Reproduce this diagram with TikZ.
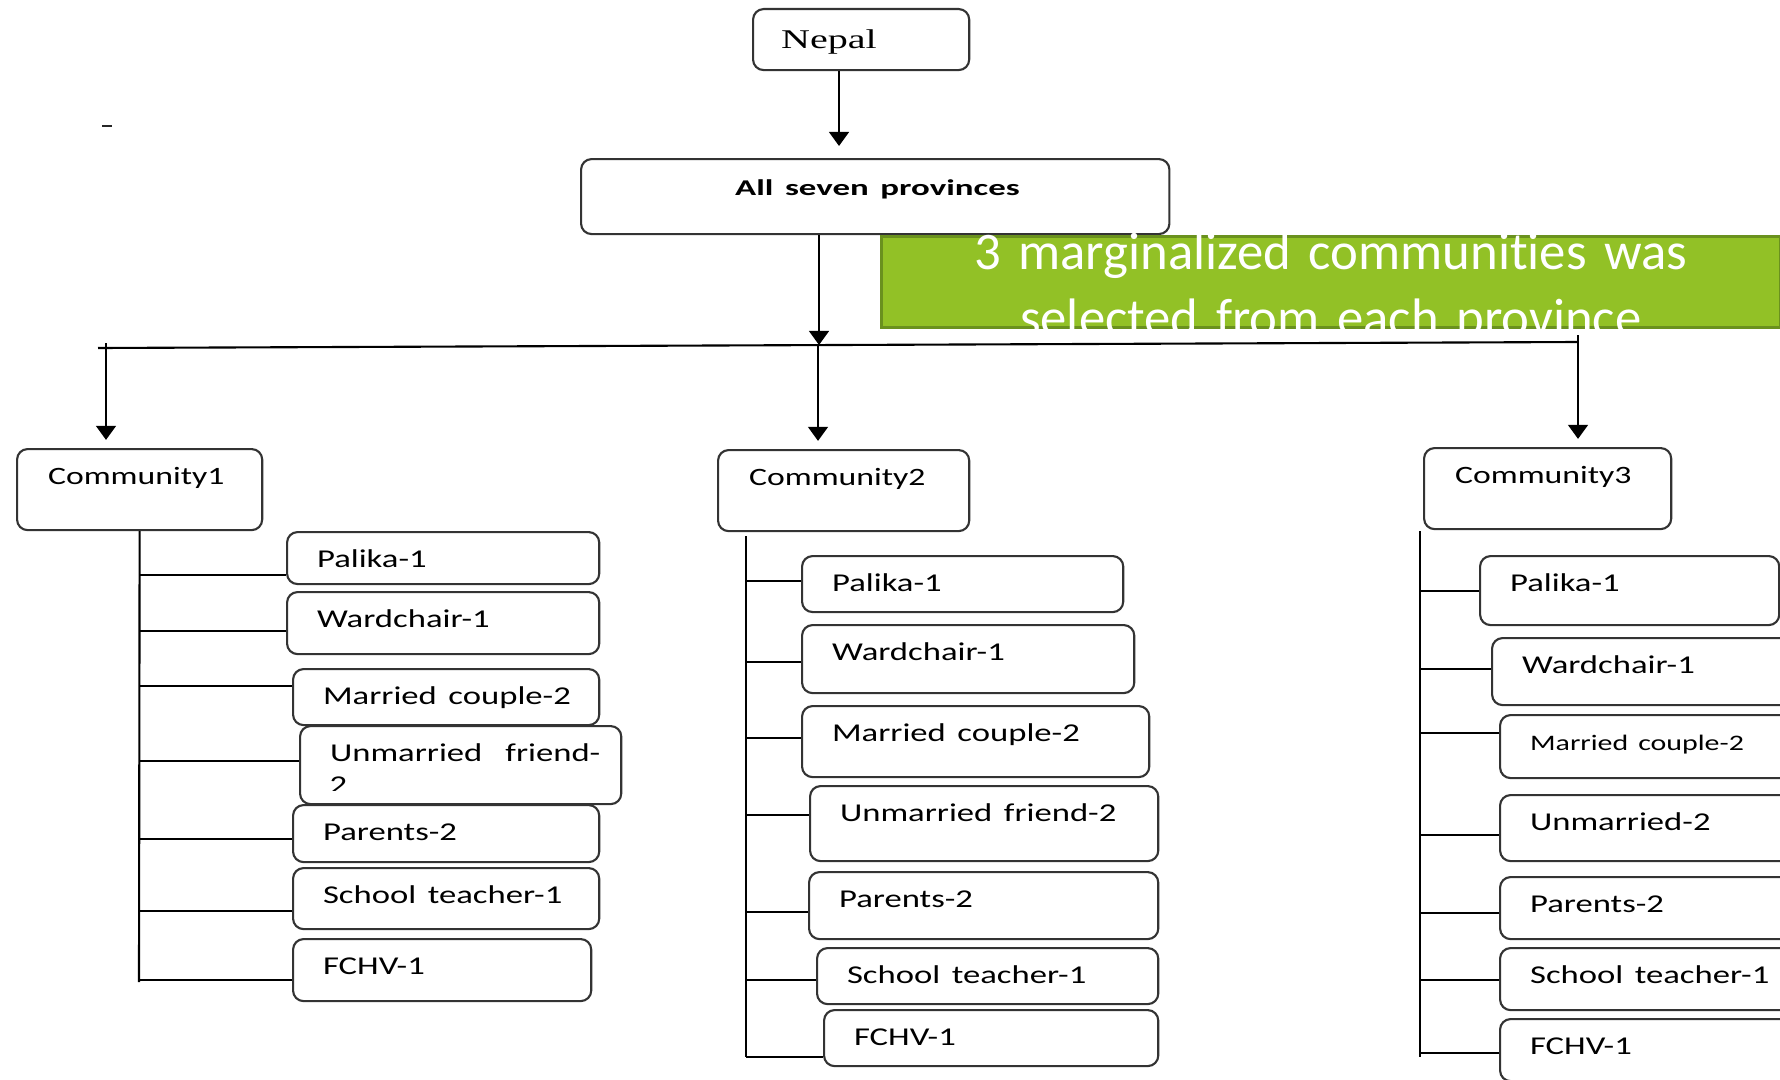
\documentclass[tikz,border=0pt]{standalone}
\usepackage{fontspec}
\setmainfont{Carlito}[RawFeature={-liga;-clig;-calt}]
\newfontfamily\nepalfont{Liberation Serif}
\usetikzlibrary{arrows.meta}
\definecolor{greenfill}{RGB}{146,193,38}
\definecolor{greenline}{RGB}{106,145,30}
\newcommand{\wide}[1]{\scalebox{1.35}[1]{#1}}

\begin{document}
\begin{tikzpicture}[x = 0.01cm, y = -0.01cm, >={Triangle[width=5.6pt,length=4pt]}]

\tikzstyle{box}=[draw=black!80, line width=0.6pt, rounded corners=3pt, anchor=north west, inner ysep=0pt, align=left]
\tikzstyle{leaf}=[box, inner xsep=0.3cm, text height=0.35cm, font=\fontsize{7.3}{9}\selectfont]
\tikzstyle{comm}=[box, inner xsep=0.31cm, text height=0.35cm, text depth=0.46cm, font=\fontsize{7.1}{9}\selectfont]
\tikzstyle{note}=[fill=greenfill, draw=greenline, line width=0.85pt, anchor=north west, inner sep=0pt, text width=8.98cm, align=center, text height=0.33cm, text depth=0.58cm, text=white, font=\fontsize{15}{18.8}\selectfont]
\tikzstyle{link}=[line width=0.6pt, color=black]

\useasboundingbox (0,0) rectangle (1780,1079);

\coordinate (n1) at (839,146);
\coordinate (hub) at (819,345);
\coordinate (hl) at (98,348);
\coordinate (hr) at (1578,342);
\coordinate (a1) at (106,343);
\coordinate (a2) at (818,345);
\coordinate (a3) at (1578,335);
\coordinate (c1b) at (139,982);
\coordinate (c2t) at (746,536);
\coordinate (c2b) at (746,1057);
\coordinate (c3t) at (1420,531);
\coordinate (c3b) at (1420,1057);

\path
(752,8) node[box, inner xsep=0.28cm, text width=1.60cm, text height=0.39cm, text depth=0.22cm, font=\fontsize{7.7}{9}\selectfont](nepal) {\nepalfont\scalebox{1.48}[1]{Nepal}}
(580,158) node[box, inner xsep=1.54cm, text width=2.80cm, text height=0.36cm, text depth=0.39cm, font=\fontsize{6.4}{8}\selectfont](prov) {\scalebox{1.55}[1]{\bfseries All seven provinces}}
(880,235) node[note](sel) {3 marginalized communit\kern0pt ies was\\selected from each province};

\path
(16,448) node[comm, text width=1.83cm](c1) {\wide{Community1}}
(717,449) node[comm, text width=1.89cm](c2) {\wide{Community2}}
(1423,447) node[comm, text width=1.85cm](c3) {\wide{Community3}};

% community 1
\path
(286,531) node[leaf, text width=2.52cm, text depth=0.17cm](c1p1) {\wide{Palika-1}}
(286,591) node[leaf, text width=2.52cm, text depth=0.27cm](c1p2) {\wide{Wardchair-1}}
(292,668) node[leaf, text width=2.46cm, text depth=0.21cm](c1p3) {\wide{Married couple-2}}
(299,725) node[leaf, text width=2.61cm, text depth=0.43cm](c1p4) {\wide{Unmarried\ \ friend-}}
(292,804) node[leaf, text width=2.46cm, text depth=0.22cm](c1p5) {\wide{Parents-2}}
(292,867) node[leaf, text width=2.46cm, text depth=0.26cm](c1p6) {\wide{School teacher-1}}
(292,938) node[leaf, text width=2.38cm, text depth=0.27cm](c1p7) {\wide{FCHV-1}};

\begin{scope}
\clip (299,770) rectangle (620,790);
\node[anchor=base west, inner sep=0pt, font=\fontsize{7.3}{9}\selectfont] (c1p4x) at (329,793) {\wide{2}};
\end{scope}

% community 2
\path
(801,555) node[leaf, text width=2.61cm, text depth=0.21cm](c2p1) {\wide{Palika-1}}
(801,624) node[leaf, text width=2.72cm, text depth=0.33cm](c2p2) {\wide{Wardchair-1}}
(801,705) node[leaf, text width=2.87cm, text depth=0.36cm](c2p3) {\wide{Married couple-2}}
(809,785) node[leaf, text width=2.88cm, text depth=0.40cm](c2p4) {\wide{Unmarried friend-2}}
(808,871) node[leaf, text width=2.89cm, text depth=0.32cm](c2p5) {\wide{Parents-2}}
(816,947) node[leaf, text width=2.81cm, text depth=0.21cm](c2p6) {\wide{School teacher-1}}
(823,1009) node[leaf, text width=2.74cm, text depth=0.21cm](c2p7) {\wide{FCHV-1}};

% community 3
\path
(1479,555) node[leaf, text width=2.39cm, text depth=0.34cm](c3p1) {\wide{Palika-1}}
(1491,637) node[leaf, text width=2.60cm, text depth=0.32cm](c3p2) {\wide{Wardchair-1}}
(1499,714) node[leaf, text width=2.40cm, text depth=0.28cm, font=\fontsize{6.3}{8}\selectfont](c3p3) {\wide{Married couple-2}}
(1499,794) node[leaf, text width=2.40cm, text depth=0.31cm](c3p4) {\wide{Unmarried-2}}
(1499,876) node[leaf, text width=2.40cm, text depth=0.27cm](c3p5) {\wide{Parents-2}}
(1499,947) node[leaf, text width=2.40cm, text depth=0.27cm](c3p6) {\wide{School teacher-1}}
(1499,1018) node[leaf, text width=2.40cm, text depth=0.27cm](c3p7) {\wide{FCHV-1}};

%arrows
\draw[->, line width = 0.7pt, color = black] (n1 |- nepal.south) to (n1);
\draw[->, line width = 0.7pt, color = black] (hub |- prov.south) to (hub);
\draw[link] (hl) to (hr);
\draw[->, line width = 0.7pt, color = black, shorten >=2.3pt] (a1) to (a1 |- c1.north);
\draw[->, line width = 0.7pt, color = black, shorten >=2.3pt] (a2) to (a2 |- c2.north);
\draw[->, line width = 0.7pt, color = black, shorten >=2.3pt] (a3) to (a3 |- c3.north);

%stems
\draw[link] (c1.south) to (c1b);
\draw[link] (c2t) to (c2b);
\draw[link] (c3t) to (c3b);

\foreach \i/\y in {1/575, 2/631, 3/686, 4/761, 5/839, 6/911, 7/980}
  \draw[link] (c1b |- 0,\y) to (c1p\i.west |- 0,\y);
\foreach \i/\y in {1/581, 2/662, 3/738, 4/815, 5/912, 6/980, 7/1057}
  \draw[link] (c2t |- 0,\y) to (c2p\i.west |- 0,\y);
\foreach \i/\y in {1/591, 2/669, 3/733, 4/835, 5/913, 6/980, 7/1053}
  \draw[link] (c3t |- 0,\y) to (c3p\i.west |- 0,\y);

\draw[line width=0.8pt, color=black!85] (102,126) -- (112,126);

\end{tikzpicture}
\end{document}
